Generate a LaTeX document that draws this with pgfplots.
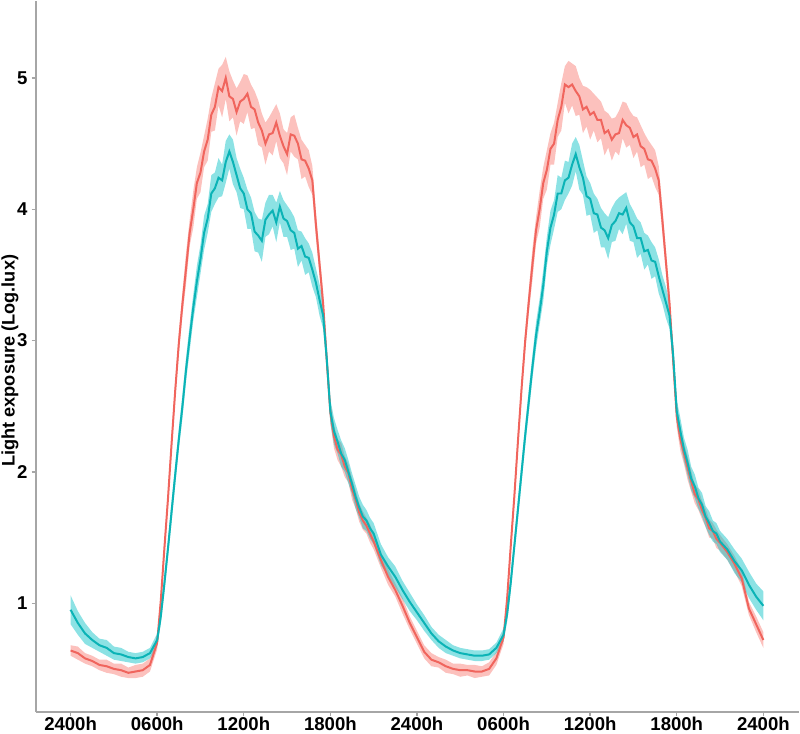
\documentclass[border=0pt]{standalone}
\usepackage{fontspec}
\setmainfont{Liberation Sans}
\usepackage{pgfplots}
\pgfplotsset{compat=1.18}
\usepackage{pgfplotstable}
\usepgfplotslibrary{fillbetween}

\definecolor{rfill}{HTML}{F8766D}
\definecolor{rline}{HTML}{F0655D}
\definecolor{cfill}{HTML}{00BFC4}
\definecolor{cline}{HTML}{0BB3B6}
\definecolor{axgray}{HTML}{A6A6A6}

% t = hours, r/c = mean log lux, rs/cs = half width of the band
\pgfplotstableread{
t r rs c cs
0 0.64 0.04 0.95 0.11
0.5 0.62 0.05 0.85 0.09
1 0.58 0.04 0.77 0.08
1.5 0.56 0.04 0.72 0.06
2 0.53 0.04 0.68 0.05
2.5 0.52 0.05 0.66 0.06
3 0.50 0.04 0.62 0.05
3.5 0.49 0.05 0.61 0.05
4 0.47 0.04 0.59 0.04
4.5 0.48 0.05 0.58 0.04
5 0.49 0.05 0.59 0.04
5.5 0.53 0.05 0.62 0.04
6 0.70 0.05 0.72 0.05
6.25 1.02 0.05 0.90 0.06
6.5 1.42 0.06 1.15 0.07
6.75 1.80 0.06 1.42 0.07
7 2.22 0.07 1.70 0.08
7.25 2.62 0.07 1.98 0.08
7.5 2.98 0.08 2.25 0.08
7.75 3.28 0.09 2.50 0.09
8 3.55 0.12 2.78 0.09
8.25 3.82 0.10 3.02 0.10
8.5 4.00 0.14 3.25 0.10
8.75 4.20 0.12 3.45 0.12
9 4.28 0.15 3.62 0.11
9.25 4.44 0.12 3.82 0.13
9.5 4.53 0.16 3.93 0.11
9.75 4.72 0.13 4.12 0.14
10 4.78 0.18 4.16 0.12
10.25 4.93 0.14 4.24 0.15
10.5 4.90 0.20 4.22 0.12
10.75 5.00 0.16 4.36 0.16
11 4.86 0.19 4.44 0.13
11.25 4.84 0.14 4.36 0.17
11.5 4.74 0.18 4.26 0.13
11.75 4.82 0.15 4.16 0.15
12 4.84 0.19 4.12 0.12
12.25 4.88 0.14 4.00 0.15
12.5 4.78 0.17 3.97 0.12
12.75 4.76 0.14 3.83 0.15
13 4.66 0.17 3.80 0.13
13.25 4.60 0.13 3.76 0.16
13.5 4.50 0.16 3.92 0.13
13.75 4.57 0.13 3.96 0.15
14 4.58 0.17 3.99 0.12
14.25 4.66 0.14 3.90 0.15
14.5 4.56 0.17 4.02 0.12
14.75 4.48 0.13 3.93 0.14
15 4.42 0.16 3.91 0.12
15.25 4.57 0.13 3.84 0.15
15.5 4.56 0.16 3.82 0.12
15.75 4.50 0.12 3.70 0.14
16 4.38 0.15 3.72 0.11
16.25 4.37 0.12 3.64 0.14
16.5 4.31 0.14 3.63 0.11
16.75 4.22 0.11 3.54 0.13
17 3.88 0.10 3.44 0.11
17.25 3.58 0.09 3.31 0.12
17.5 3.28 0.09 3.19 0.10
17.75 2.85 0.08 2.86 0.09
18 2.45 0.08 2.46 0.09
18.25 2.27 0.09 2.31 0.10
18.5 2.17 0.08 2.23 0.09
18.75 2.13 0.09 2.14 0.10
19 2.04 0.08 2.09 0.09
19.25 1.99 0.07 2.00 0.09
19.5 1.87 0.08 1.91 0.08
19.75 1.79 0.07 1.81 0.09
20 1.69 0.07 1.73 0.08
20.25 1.63 0.07 1.66 0.09
20.5 1.59 0.06 1.63 0.08
20.75 1.53 0.07 1.57 0.08
21 1.47 0.06 1.53 0.08
21.5 1.33 0.06 1.37 0.08
22 1.20 0.06 1.28 0.07
22.5 1.10 0.05 1.20 0.08
23 0.98 0.06 1.10 0.07
23.5 0.85 0.05 1.01 0.07
24 0.74 0.05 0.93 0.06
24.5 0.63 0.05 0.85 0.06
25 0.57 0.05 0.77 0.05
25.5 0.55 0.04 0.71 0.05
26 0.52 0.05 0.67 0.05
26.5 0.50 0.04 0.64 0.04
27 0.49 0.05 0.62 0.04
27.5 0.49 0.04 0.61 0.04
28 0.48 0.05 0.60 0.04
28.5 0.48 0.04 0.60 0.04
29 0.50 0.05 0.61 0.04
29.5 0.58 0.05 0.66 0.04
30 0.74 0.05 0.76 0.05
30.25 1.04 0.05 0.92 0.06
30.5 1.44 0.06 1.16 0.07
30.75 1.82 0.06 1.44 0.07
31 2.24 0.07 1.72 0.08
31.25 2.64 0.07 2.00 0.08
31.5 3.00 0.08 2.28 0.08
31.75 3.30 0.09 2.54 0.09
32 3.58 0.12 2.80 0.09
32.25 3.84 0.10 3.04 0.10
32.5 4.00 0.14 3.22 0.10
32.75 4.20 0.12 3.42 0.12
33 4.30 0.15 3.68 0.11
33.25 4.46 0.12 3.86 0.13
33.5 4.50 0.16 3.96 0.11
33.75 4.68 0.13 4.12 0.14
34 4.78 0.18 4.12 0.12
34.25 4.95 0.14 4.22 0.15
34.5 4.93 0.20 4.24 0.12
34.75 4.95 0.16 4.34 0.16
35 4.90 0.19 4.42 0.13
35.25 4.86 0.14 4.32 0.17
35.5 4.76 0.18 4.24 0.13
35.75 4.78 0.15 4.10 0.15
36 4.72 0.19 4.08 0.12
36.25 4.74 0.14 3.97 0.15
36.5 4.68 0.17 3.96 0.12
36.75 4.68 0.14 3.86 0.15
37 4.58 0.17 3.84 0.13
37.25 4.60 0.13 3.78 0.16
37.5 4.53 0.16 3.88 0.13
37.75 4.57 0.13 3.91 0.15
38 4.58 0.17 3.97 0.12
38.25 4.68 0.14 3.96 0.15
38.5 4.64 0.17 4.01 0.12
38.75 4.62 0.13 3.90 0.14
39 4.55 0.16 3.87 0.12
39.25 4.57 0.13 3.78 0.15
39.5 4.48 0.16 3.78 0.12
39.75 4.46 0.12 3.68 0.14
40 4.38 0.15 3.69 0.11
40.25 4.37 0.12 3.61 0.14
40.5 4.31 0.14 3.60 0.11
40.75 4.22 0.11 3.49 0.13
41 3.92 0.10 3.39 0.11
41.25 3.60 0.09 3.29 0.12
41.5 3.28 0.09 3.19 0.10
41.75 2.85 0.08 2.89 0.09
42 2.42 0.08 2.46 0.09
42.25 2.25 0.09 2.31 0.10
42.5 2.14 0.08 2.17 0.09
42.75 2.03 0.09 2.07 0.10
43 1.93 0.08 1.95 0.09
43.25 1.83 0.07 1.89 0.09
43.5 1.79 0.08 1.80 0.08
43.75 1.71 0.07 1.75 0.09
44 1.65 0.07 1.66 0.08
44.25 1.57 0.07 1.61 0.09
44.5 1.55 0.06 1.55 0.08
44.75 1.49 0.07 1.53 0.08
45 1.46 0.06 1.47 0.08
45.5 1.39 0.06 1.41 0.08
46 1.30 0.06 1.32 0.09
46.5 1.19 0.06 1.25 0.09
47 0.96 0.05 1.14 0.10
47.5 0.84 0.06 1.05 0.10
48 0.72 0.06 0.98 0.11
}\lux

\begin{document}
\begin{tikzpicture}
\begin{axis}[
    scale only axis,
    width=382pt,
    height=356pt,
    xmin=-2.4, xmax=50.47,
    ymin=0.171, ymax=5.586,
    axis lines=left,
    axis line style={-, draw=axgray, line width=1pt},
    tick style={draw=axgray, line width=0.7pt},
    tick align=outside,
    major tick length=2.2pt,
    xtick={0,6,12,18,24,30,36,42,48},
    xticklabels={2400h,0600h,1200h,1800h,2400h,0600h,1200h,1800h,2400h},
    ytick={1,2,3,4,5},
    ticklabel style={font=\fontsize{9.3}{10}\selectfont\bfseries, inner sep=0pt},
    xticklabel style={yshift=-0.2pt},
    yticklabel style={xshift=-1.8pt},
    /pgf/number format/assume math mode=true,
    ylabel={Light exposure (Log.lux)},
    ylabel style={font=\fontsize{9.1}{10}\selectfont\bfseries, inner sep=0pt,
        at={(axis description cs:-0.034,0.494)}, anchor=center},
]
\addplot[draw=none, name path=rhi, forget plot] table[x=t, y expr=\thisrow{r}+\thisrow{rs}] {\lux};
\addplot[draw=none, name path=rlo, forget plot] table[x=t, y expr=\thisrow{r}-\thisrow{rs}] {\lux};
\addplot[fill=rfill, fill opacity=0.45, draw=none] fill between[of=rhi and rlo];
\addplot[rline, line width=1pt] table[x=t, y=r] {\lux};

\addplot[draw=none, name path=chi, forget plot] table[x=t, y expr=\thisrow{c}+\thisrow{cs}] {\lux};
\addplot[draw=none, name path=clo, forget plot] table[x=t, y expr=\thisrow{c}-\thisrow{cs}] {\lux};
\addplot[fill=cfill, fill opacity=0.45, draw=none] fill between[of=chi and clo];
\addplot[cline, line width=1pt] table[x=t, y=c] {\lux};
\end{axis}
\path (-18pt,-10.8pt) rectangle (382pt,356pt);
\end{tikzpicture}
\end{document}
